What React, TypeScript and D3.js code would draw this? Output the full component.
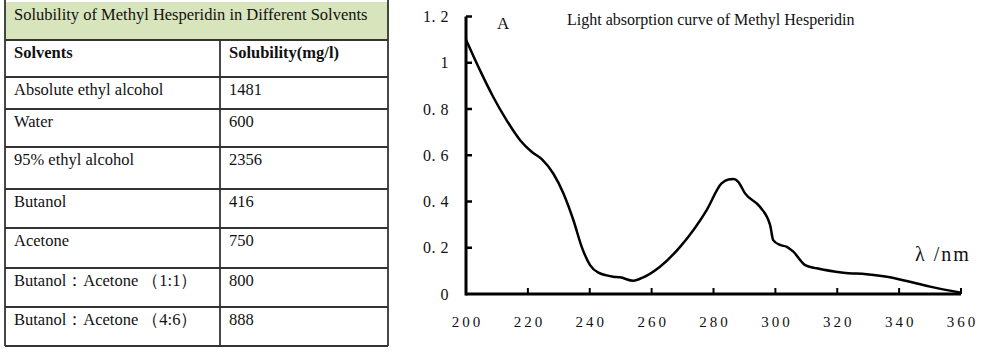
import React, { useRef, useEffect } from 'react';
import * as d3 from 'd3';

// solubility table
const tableTitle = 'Solubility of Methyl Hesperidin in Different Solvents';
const tableHeaders = ['Solvents', 'Solubility(mg/l)'];
const solvents = [
  'Absolute ethyl alcohol',
  'Water',
  '95% ethyl alcohol',
  'Butanol',
  'Acetone',
  'Butanol：Acetone （1:1）',
  'Butanol：Acetone （4:6）',
];
const solubility = ['1481', '600', '2356', '416', '750', '800', '888'];

// absorption curve
const wavelength = [
  200, 204.5, 208.8, 213.1, 217.5, 221.2, 224.5, 228.2, 231.5, 234.7, 237.4, 240.1,
  242.8, 247.6, 249.8, 254.1, 257.3, 262.7, 269.2, 277.8, 282.6, 284.8, 286.5, 288.0,
  290.2, 295.0, 298.3, 299.3, 301.5, 303.7, 305.8, 309.6, 313.4, 322.0, 329.5, 337.0,
  340.3, 350, 360,
];
const absorbance = [
  1.1, 0.968, 0.852, 0.752, 0.665, 0.615, 0.583, 0.521, 0.435, 0.32, 0.204, 0.125,
  0.092, 0.075, 0.072, 0.057, 0.072, 0.118, 0.204, 0.363, 0.478, 0.495, 0.497, 0.485,
  0.435, 0.377, 0.298, 0.233, 0.212, 0.204, 0.183, 0.125, 0.111, 0.092, 0.085, 0.072,
  0.063, 0.032, 0.005,
];
const xTicks = [200, 220, 240, 260, 280, 300, 320, 340, 360];
const yTicks = [0, 0.2, 0.4, 0.6, 0.8, 1, 1.2];
const yTickLabels = ['0', '0. 2', '0. 4', '0. 6', '0. 8', '1', '1. 2'];
const chartTitle = 'Light absorption curve of Methyl Hesperidin';

const serif = '"Liberation Serif", "Times New Roman", serif';

const App = () => {
  const svgRef = useRef<SVGSVGElement>(null);

  useEffect(() => {
    const svg = d3.select(svgRef.current);
    svg.selectAll('*').remove();

    svg.append('rect').attr('width', 1000).attr('height', 353).attr('fill', '#fff');

    // ---- table ----
    const rowLines = [2, 40, 77, 109, 147, 189, 228, 268, 307, 346];
    const left = 5;
    const right = 388;
    const colX = 220;
    const t = svg.append('g');

    t.append('rect')
      .attr('x', left).attr('y', rowLines[0])
      .attr('width', right - left).attr('height', rowLines[1] - rowLines[0])
      .attr('fill', '#d8e4bc');

    t.append('text')
      .attr('x', 14).attr('y', rowLines[0] + 17.5)
      .attr('font-family', serif).attr('font-size', 16.5)
      .attr('fill', '#111')
      .text(tableTitle);

    const rows = [tableHeaders].concat(solvents.map((s, i) => [s, solubility[i]]));
    rows.forEach((r, i) => {
      const top = rowLines[i + 1];
      [r[0], r[1]].forEach((txt, j) => {
        t.append('text')
          .attr('x', j === 0 ? 14 : 229)
          .attr('y', top + 18)
          .attr('font-family', serif)
          .attr('font-size', 16.5)
          .attr('font-weight', i === 0 ? 'bold' : 'normal')
          .attr('fill', '#111')
          .text(txt);
      });
    });

    const lineColor = '#333';
    rowLines.slice(1).forEach(y => {
      t.append('line')
        .attr('x1', left).attr('x2', right)
        .attr('y1', y).attr('y2', y)
        .attr('stroke', lineColor).attr('stroke-width', 1.8);
    });
    t.append('line')
      .attr('x1', colX).attr('x2', colX)
      .attr('y1', rowLines[1]).attr('y2', rowLines[rowLines.length - 1])
      .attr('stroke', lineColor).attr('stroke-width', 1.8);
    [left, right].forEach(x => {
      t.append('line')
        .attr('x1', x).attr('x2', x)
        .attr('y1', 0).attr('y2', rowLines[rowLines.length - 1])
        .attr('stroke', lineColor).attr('stroke-width', 1.8);
    });

    // ---- absorption chart ----
    const x = d3.scaleLinear().domain([200, 360]).range([466, 961]);
    const y = d3.scaleLinear().domain([0, 1.2]).range([294, 16.5]);
    const c = svg.append('g');

    c.append('line')
      .attr('x1', x(200)).attr('x2', x(360))
      .attr('y1', y(0)).attr('y2', y(0))
      .attr('stroke', '#000').attr('stroke-width', 3);
    c.append('line')
      .attr('x1', x(200)).attr('x2', x(200))
      .attr('y1', y(0) + 1.5).attr('y2', y(1.2))
      .attr('stroke', '#000').attr('stroke-width', 3);

    xTicks.slice(1).forEach(v => {
      c.append('line')
        .attr('x1', x(v)).attr('x2', x(v))
        .attr('y1', y(0)).attr('y2', y(0) - 6)
        .attr('stroke', '#000').attr('stroke-width', 2);
    });
    xTicks.forEach(v => {
      c.append('text')
        .attr('x', x(v) + 1.5).attr('y', 327)
        .attr('text-anchor', 'middle')
        .attr('font-family', serif).attr('font-size', 15)
        .attr('letter-spacing', 3)
        .attr('fill', '#111')
        .text(String(v));
    });

    yTicks.slice(1).forEach(v => {
      c.append('line')
        .attr('x1', x(200)).attr('x2', x(200) + 6)
        .attr('y1', y(v)).attr('y2', y(v))
        .attr('stroke', '#000').attr('stroke-width', 2.5);
    });
    yTicks.forEach((v, i) => {
      c.append('text')
        .attr('x', 449).attr('y', y(v) + 5.5)
        .attr('text-anchor', 'end')
        .attr('font-family', serif).attr('font-size', 16)
        .attr('letter-spacing', 0.5)
        .attr('fill', '#111')
        .text(yTickLabels[i]);
    });

    const line = d3.line<number>()
      .x((d, i) => x(wavelength[i]))
      .y(d => y(d))
      .curve(d3.curveMonotoneX);

    c.append('path')
      .attr('d', line(absorbance))
      .attr('fill', 'none')
      .attr('stroke', '#000')
      .attr('stroke-width', 2.5);

    c.append('text')
      .attr('x', 497).attr('y', 29)
      .attr('font-family', serif).attr('font-size', 17)
      .attr('fill', '#111')
      .text('A');

    c.append('text')
      .attr('x', 567).attr('y', 25)
      .attr('font-family', serif).attr('font-size', 16)
      .attr('fill', '#111')
      .text(chartTitle);

    c.append('text')
      .attr('x', 915).attr('y', 261)
      .attr('font-family', serif).attr('font-size', 20)
      .attr('letter-spacing', 2)
      .attr('fill', '#111')
      .text('λ /nm');
  }, []);

  return (
    <div style={{ position: 'absolute', left: 0, top: 0 }}>
      <svg ref={svgRef} width={1000} height={353} style={{ display: 'block' }}></svg>
    </div>
  );
};

export default App;
